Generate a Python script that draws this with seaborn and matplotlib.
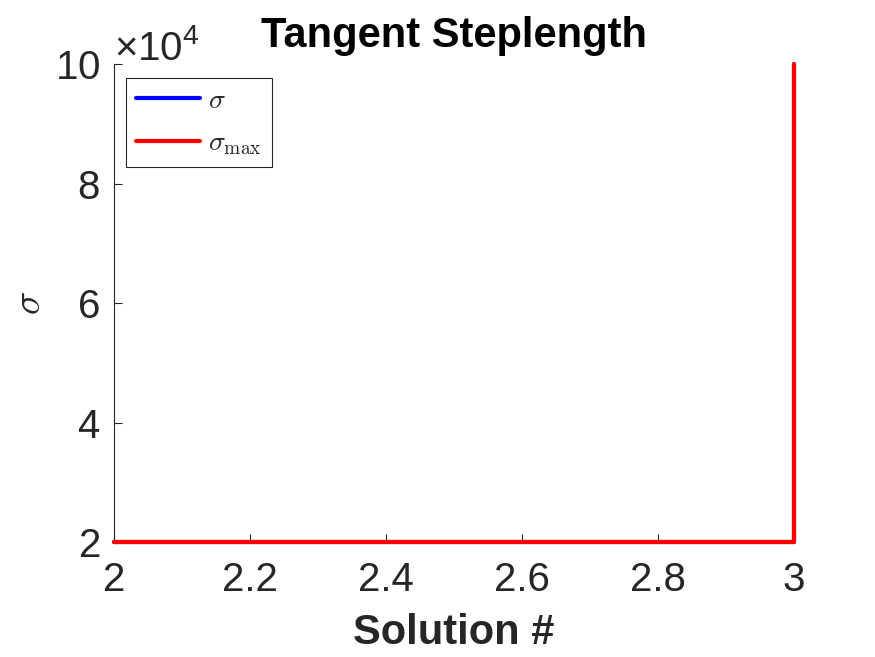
import numpy as np
import pandas as pd
import seaborn as sns
import matplotlib.pyplot as plt

# data
solution = [2, 3, 3]
sigma = [20000, 20000, 100000]
sigma_max = [20000, 20000, 100000]

sns.set_style('ticks')
plt.rcParams['font.family'] = ['Liberation Sans', 'DejaVu Sans']
plt.rcParams['mathtext.fontset'] = 'custom'
plt.rcParams['mathtext.rm'] = 'Liberation Sans'
plt.rcParams['mathtext.it'] = 'Liberation Sans:italic'

dark = '#262626'

fig = plt.figure(figsize=(8.75, 6.57), dpi=100)
ax = fig.add_axes([0.1303, 0.175, 0.7771, 0.7276])

df = pd.DataFrame({'x': solution, 'sigma': sigma, 'sigma_max': sigma_max})
sns.lineplot(data=df, x='x', y='sigma', ax=ax, color='#0000ff', lw=3,
             estimator=None, sort=False, label=r'$\sigma$')
sns.lineplot(data=df, x='x', y='sigma_max', ax=ax, color='#ff0000', lw=3,
             estimator=None, sort=False, label=r'$\sigma_{\max}$')
for ln in ax.lines:
    ln.set_clip_on(False)
    ln.set_zorder(5)

ax.set_xlim(2, 3)
ax.set_ylim(20000, 100000)
ax.set_xticks(np.arange(2, 3.01, 0.2))
ax.set_xticklabels(['2', '2.2', '2.4', '2.6', '2.8', '3'])
ax.set_yticks([20000, 40000, 60000, 80000, 100000])
ax.ticklabel_format(axis='y', style='sci', scilimits=(4, 4), useMathText=True)

for s in ['top', 'right']:
    ax.spines[s].set_visible(False)
for s in ['left', 'bottom']:
    ax.spines[s].set_color(dark)
    ax.spines[s].set_linewidth(0.8)

ax.tick_params(direction='in', length=6, width=0.8, colors=dark,
               labelsize=29, pad=10)
ax.tick_params(axis='x', pad=14)
ax.yaxis.get_offset_text().set_fontsize(29)
ax.yaxis.get_offset_text().set_color(dark)

ax.set_title('Tangent Steplength', fontsize=30, fontweight='bold',
             color='black', pad=12)
ax.set_xlabel('Solution #', fontsize=30, fontweight='bold', color=dark, labelpad=10)
yl = ax.set_ylabel(r'$\sigma$', fontsize=28, color=dark, labelpad=5)
yl.set_math_fontfamily('cm')

leg = ax.legend(loc='upper left', fontsize=20, frameon=True, fancybox=False,
                edgecolor=dark, framealpha=1, handlelength=2.3,
                borderpad=0.35, labelspacing=0.6, handletextpad=0.3,
                borderaxespad=0, bbox_to_anchor=(0.018, 0.97))
leg.get_frame().set_linewidth(0.8)
for t in leg.get_texts():
    t.set_math_fontfamily('cm')

fig.savefig('out.png', dpi=100)
